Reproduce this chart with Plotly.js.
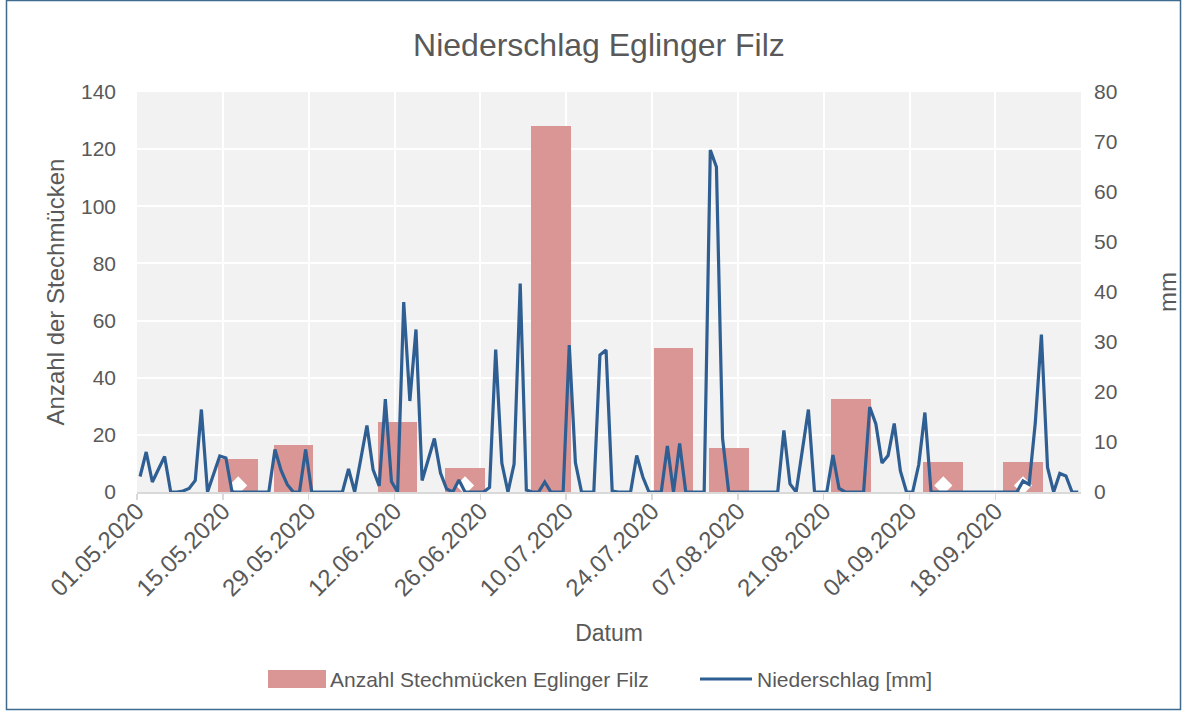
<!DOCTYPE html>
<html>
<head>
<meta charset="utf-8">
<script src="https://cdn.plot.ly/plotly-3.0.1.min.js"></script>
<style>html,body{margin:0;padding:0;background:#fff;}#chart{width:1187px;height:711px;}</style>
</head>
<body>
<div id="chart"></div>
<script>
// ---- data ----
const rainStart = '2020-05-01';
const rainMm = [
  3.1, 8.0, 2.0, 4.7, 7.1, 0, 0, 0.2, 0.7, 2.3,
  16.5, 0, 3.5, 7.2, 6.8, 0, 0, 0, 0, 0,
  0, 0, 8.5, 4.3, 1.5, 0, 0, 8.5, 0, 0,
  0, 0, 0, 0, 4.6, 0, 6.6, 13.3, 4.5, 1.2,
  18.6, 2.1, 0, 38.0, 18.2, 32.5, 2.3, 6.4, 10.7, 3.8,
  0.6, 0, 2.4, 0, 0, 0, 0, 0.9, 28.5, 5.8,
  0, 5.6, 41.7, 0.4, 0, 0, 2.0, 0, 0, 0,
  29.4, 5.9, 0, 0, 0, 27.4, 28.4, 0.2, 0, 0,
  0, 7.3, 3.0, 0, 0, 0, 9.2, 0, 9.7, 0,
  0, 0, 0, 68.4, 65.0, 10.7, 0, 0, 0, 0,
  0, 0, 0, 0, 0, 12.3, 1.6, 0, 8.1, 16.5,
  0, 0, 0, 7.4, 0.7, 0, 0, 0, 0, 17.0,
  13.6, 5.8, 7.3, 13.7, 4.2, 0, 0, 5.5, 15.9, 0,
  0, 0, 0, 0, 0, 0, 0, 0, 0, 0,
  0, 0, 0, 0, 2.2, 1.5, 13.8, 31.5, 4.9, 0,
  3.7, 3.2, 0, 0
];
const catchDates = ['2020-05-17','2020-05-26','2020-06-12','2020-06-23','2020-07-07',
                    '2020-07-27','2020-08-05','2020-08-25','2020-09-09','2020-09-22'];
const catchCounts = [11.5, 16.5, 24.5, 8.5, 128, 50.5, 15.5, 32.5, 10.5, 10.5];
const markDates = ['2020-05-17','2020-06-23','2020-09-09','2020-09-22'];
const markValues = [2.3, 2.3, 2.3, 2.3];

const barName = 'Anzahl Stechmücken Eglinger Filz';
const lineName = 'Niederschlag [mm]';
const titleText = 'Niederschlag Eglinger Filz';
const xTitle = 'Datum';
const yTitle = 'Anzahl der Stechmücken';
const y2Title = 'mm';

// daily dates
const DAY = 86400000;
const t0 = Date.parse(rainStart + 'T00:00:00Z');
const rainDates = rainMm.map((_, i) => new Date(t0 + i * DAY).toISOString().slice(0, 10));

const textCol = '#595959';
const barCol = '#d99694';
const lineCol = '#2f5e92';
const fontFam = 'Liberation Sans, Arial, sans-serif';

const traces = [
  {
    type: 'bar', name: barName, x: catchDates, y: catchCounts,
    xperiod: DAY, xperiodalignment: 'middle',
    width: 6.47 * DAY,
    marker: {color: barCol, line: {width: 0}},
    yaxis: 'y', showlegend: false
  },
  {
    type: 'scatter', mode: 'markers', x: markDates, y: markValues,
    xperiod: DAY, xperiodalignment: 'middle',
    marker: {symbol: 'diamond', size: 14, color: '#ffffff', line: {width: 0}},
    showlegend: false, hoverinfo: 'skip', yaxis: 'y'
  },
  {
    type: 'scatter', mode: 'lines', name: lineName, x: rainDates, y: rainMm,
    xperiod: DAY, xperiodalignment: 'middle',
    line: {color: lineCol, width: 3.2},
    yaxis: 'y2', showlegend: false
  }
];

const L = 137, R = 1081, T = 92, B = 492;
const px2x = X => (X - L) / (R - L);
const px2y = Y => (B - Y) / (B - T);
const legY = 679;

const layout = {
  width: 1187, height: 711,
  margin: {l: L, r: 1187 - R, t: T, b: 711 - B, pad: 0},
  paper_bgcolor: '#ffffff',
  plot_bgcolor: '#f2f2f2',
  font: {family: fontFam, color: textCol},
  title: {
    text: titleText, font: {size: 32, color: textCol, family: fontFam},
    xref: 'container', x: 0.5046, xanchor: 'center',
    yref: 'container', y: 1 - 45 / 711, yanchor: 'middle'
  },
  bargap: 0,
  showlegend: false,
  xaxis: {
    type: 'date',
    range: ['2020-05-01', '2020-10-01 23:00'],
    tick0: '2020-05-01', dtick: 14 * DAY,
    tickformat: '%d.%m.%Y', tickangle: -45,
    tickfont: {size: 24, color: textCol},
    ticks: 'outside', ticklen: 6, tickcolor: '#d9d9d9', tickwidth: 1.5,
    ticklabelstandoff: -12,
    showline: true, linecolor: '#d9d9d9', linewidth: 1.5,
    showgrid: true, gridcolor: '#ffffff', gridwidth: 2,
    zeroline: false,
    title: {text: xTitle, font: {size: 23, color: textCol}, standoff: 24},
    fixedrange: true
  },
  yaxis: {
    range: [0, 140], dtick: 20, tick0: 0,
    tickfont: {size: 21, color: textCol},
    ticks: '', ticklabelstandoff: 20,
    showgrid: true, gridcolor: '#ffffff', gridwidth: 2,
    zeroline: false, showline: false,
    title: {text: yTitle, font: {size: 24, color: textCol}, standoff: 9},
    fixedrange: true
  },
  yaxis2: {
    overlaying: 'y', side: 'right',
    range: [0, 80], dtick: 10, tick0: 0,
    tickfont: {size: 21, color: textCol},
    ticks: '', ticklabelstandoff: 12,
    showgrid: false, zeroline: false, showline: false,
    title: {text: y2Title, font: {size: 24, color: textCol}, standoff: 42},
    fixedrange: true
  },
  shapes: [
    {type: 'rect', xref: 'paper', yref: 'paper', layer: 'above',
     x0: px2x(6.5), x1: px2x(1180.5), y0: px2y(709.5), y1: px2y(0.5),
     line: {color: '#3f6b8e', width: 1.5}, fillcolor: 'rgba(0,0,0,0)'},
    // legend symbols
    {type: 'rect', xref: 'paper', yref: 'paper', layer: 'above',
     x0: px2x(268), x1: px2x(326), y0: px2y(legY + 9), y1: px2y(legY - 9),
     line: {width: 0}, fillcolor: barCol},
    {type: 'line', xref: 'paper', yref: 'paper', layer: 'above',
     x0: px2x(700), x1: px2x(752), y0: px2y(legY), y1: px2y(legY),
     line: {color: lineCol, width: 3.2}}
  ],
  annotations: [
    {xref: 'paper', yref: 'paper', x: px2x(328), y: px2y(legY), xanchor: 'left', yanchor: 'middle',
     text: barName, showarrow: false, font: {size: 21, color: textCol}},
    {xref: 'paper', yref: 'paper', x: px2x(755), y: px2y(legY), xanchor: 'left', yanchor: 'middle',
     text: lineName, showarrow: false, font: {size: 21, color: textCol}}
  ]
};

Plotly.newPlot('chart', traces, layout, {displayModeBar: false, staticPlot: true});
</script>
</body>
</html>
